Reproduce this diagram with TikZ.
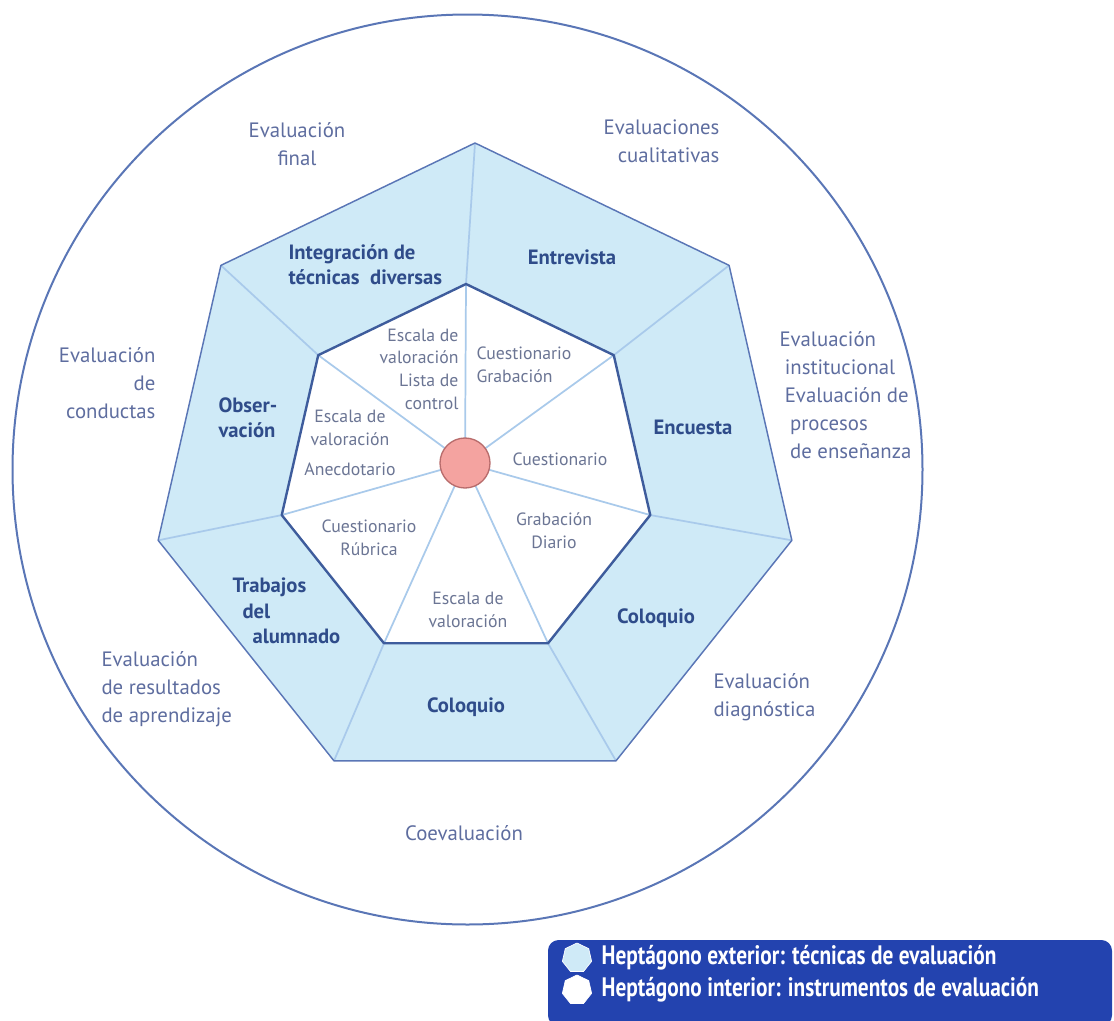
\documentclass[tikz,border=0pt]{standalone}
\usepackage{fontspec}
\setmainfont{PT Sans}
\newfontfamily\legendfont[FakeStretch=0.8]{PT Sans}
\usetikzlibrary{positioning,shapes.geometric}

\definecolor{techfill}{HTML}{CFEAF7}
\definecolor{rimblue}{HTML}{5A76B6}
\definecolor{spokeblue}{HTML}{A9CAEB}
\definecolor{innerline}{HTML}{3E5C9C}
\definecolor{outtext}{HTML}{5E6D9F}
\definecolor{techtext}{HTML}{2F4C8A}
\definecolor{insttext}{HTML}{6B7594}
\definecolor{hubred}{HTML}{F4A3A0}
\definecolor{hubline}{HTML}{B86C6C}
\definecolor{legendblue}{HTML}{2343AF}

\tikzset{every picture/.style={line width=0.75pt}}
\tikzset{
  evallabel/.style={inner sep=0.75pt, text=outtext, font=\fontsize{15.6}{21}\selectfont},
  techlabel/.style={inner sep=0.75pt, text=techtext, font=\fontsize{15.5}{19}\selectfont\bfseries},
  instlabel/.style={inner sep=0.75pt, text=insttext, font=\fontsize{13.3}{17}\selectfont},
  spoke/.style={draw=spokeblue, line width=1.3pt},
  legendtext/.style={inner sep=0pt, text=white, font=\fontsize{20}{22}\legendfont\bfseries},
  legendicon/.style={regular polygon, regular polygon sides=7, minimum size=22.5pt, inner sep=0pt, draw=white, line width=0.5pt}
}

\begin{document}
\begin{tikzpicture}[x=0.75pt,y=0.75pt,yscale=-1,xscale=1]
\useasboundingbox (0,0) rectangle (1114,1021);

% outer heptagon corners
\coordinate (o0) at (475,143);
\coordinate (o1) at (729.09,265.37);
\coordinate (o2) at (791.85,540.32);
\coordinate (o3) at (616.01,760.82);
\coordinate (o4) at (333.99,760.82);
\coordinate (o5) at (158.15,540.32);
\coordinate (o6) at (220.91,265.37);
% inner heptagon corners
\coordinate (i0) at (466,284);
\coordinate (i1) at (613.77,355.16);
\coordinate (i2) at (650.26,515.06);
\coordinate (i3) at (548,643.28);
\coordinate (i4) at (384,643.28);
\coordinate (i5) at (281.74,515.06);
\coordinate (i6) at (318.23,355.16);

%Shape: Circle
\draw [rimblue, line width=1.5pt] (467.5,469.5) circle (455);

%Shape: Polygon (shadow)
\fill [black, opacity=0.18, shift={(3,4)}] (o0) -- (o1) -- (o2) -- (o3) -- (o4) -- (o5) -- (o6) -- cycle;
%Shape: Polygon
\fill [techfill] (o0) -- (o1) -- (o2) -- (o3) -- (o4) -- (o5) -- (o6) -- cycle;
%Shape: Polygon
\fill [white] (i0) -- (i1) -- (i2) -- (i3) -- (i4) -- (i5) -- (i6) -- cycle;

% Hub
\node (hub) [circle, minimum size=37.5pt, inner sep=0pt] at (465,463) {};

%Straight Lines
\foreach \k in {0,...,6} {
  \draw [spoke] (hub.center) -- (i\k) -- (o\k);
}

%Shape: Polygon
\draw [innerline, line width=1.8pt, line join=round] (i0) -- (i1) -- (i2) -- (i3) -- (i4) -- (i5) -- (i6) -- cycle;
%Shape: Polygon
\draw [rimblue, line width=1.1pt, line join=round] (o0) -- (o1) -- (o2) -- (o3) -- (o4) -- (o5) -- (o6) -- cycle;

%Shape: Circle
\draw [fill=hubred, draw=hubline, line width=1pt] (hub.center) circle (25);

% Text Node
\node (evfinal) [evallabel, align=center] at (297,144) {Evaluación\\final};
% Text Node
\node (evcuali) [evallabel, align=right, anchor=east] at (721,141) {Evaluaciones\\cualitativas};
% Text Node
\node (evinst) [evallabel, align=left, anchor=west] at (778,395) {Evaluación\\\hspace*{4pt}institucional\\\hspace*{4pt}Evaluación de\\\hspace*{8pt}procesos\\\hspace*{8pt}de enseñanza};
% Text Node
\node (evcond) [evallabel, align=right, anchor=east] at (157,383) {Evaluación\\de\\conductas};
% Text Node
\node (evresult) [evallabel, align=left, anchor=west] at (100,689) {Evaluación\\de resultados\\de aprendizaje};
% Text Node
\node (evdiag) [evallabel, align=left, anchor=west] at (712,697) {Evaluación\\diagnóstica};
% Text Node
\node (coeval) [evallabel] at (464,833) {Coevaluación};

% Text Node
\node (integ) [techlabel, align=left, anchor=west] at (287,265) {Integración de\\técnicas\ \ diversas};
% Text Node
\node (entrev) [techlabel] at (572,257) {Entrevista};
% Text Node
\node (encuesta) [techlabel] at (693,427) {Encuesta};
% Text Node
\node (coloqder) [techlabel] at (656,618) {Coloquio};
% Text Node
\node (coloqinf) [techlabel] at (466,707) {Coloquio};
% Text Node
\node (trabajos) [techlabel, align=left, anchor=west] at (231,611) {Trabajos\\\hspace*{7.5pt}del\\\hspace*{15pt}alumnado};
% Text Node
\node (observ) [techlabel, align=left, anchor=west] at (217,418) {Obser-\\vación};

% Text Node
\node (instint) [instlabel, align=right, anchor=east] at (460,369) {Escala de\\valoración\\Lista de\\control};
% Text Node
\node (instent) [instlabel, align=left, anchor=west] at (475,365) {Cuestionario\\Grabación};
% Text Node
\node (instenc) [instlabel] at (560,459) {Cuestionario};
% Text Node
\node (instcolder) [instlabel, align=center] at (554,531) {Grabación\\Diario};
% Text Node
\node (instcolinf) [instlabel, align=center] at (468,610) {Escala de\\valoración};
% Text Node
\node (insttrab) [instlabel, align=center] at (369,538) {Cuestionario\\Rúbrica};
% Text Node
\node (instobs) [instlabel, align=center] at (350,443) {Escala de\\valoración\\[6pt]Anecdotario};

% Legend
\fill [legendblue, rounded corners=8] (548,940) rectangle (1112,1026);
\node (iconext) [legendicon, fill=techfill] at (577,958) {};
\node (iconint) [legendicon, fill=white] at (577,990) {};
\node (legext) [legendtext, right=7.5pt of iconext] {Heptágono exterior: técnicas de evaluación};
\node (legint) [legendtext, right=7.5pt of iconint] {Heptágono interior: instrumentos de evaluación};
\end{tikzpicture}
\end{document}
